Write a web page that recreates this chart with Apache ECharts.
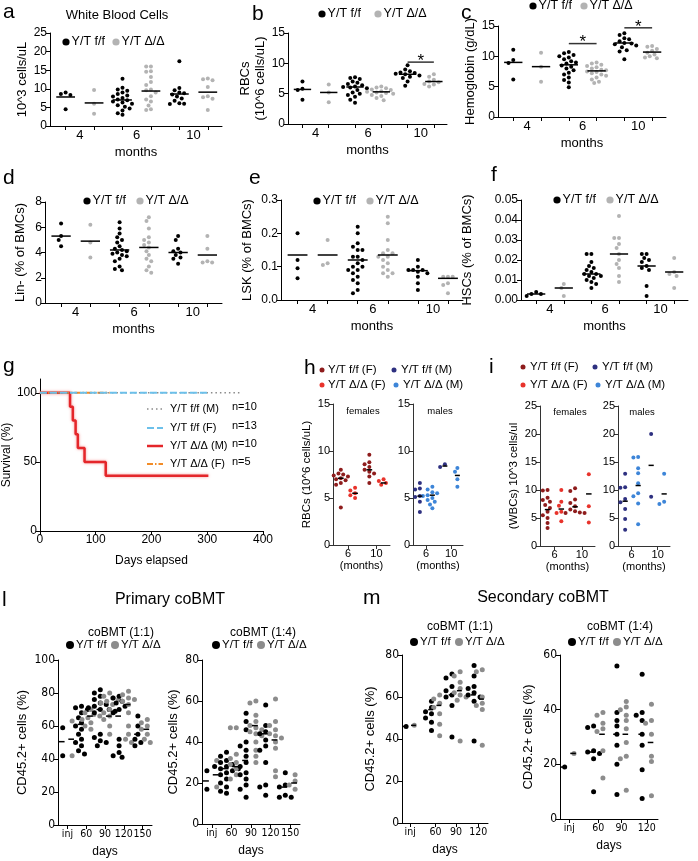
<!DOCTYPE html>
<html><head><meta charset="utf-8">
<script src="https://cdn.jsdelivr.net/npm/echarts@6/dist/echarts.min.js"></script>
<style>html,body{margin:0;padding:0;background:#fff}#c{width:698px;height:861px}</style>
</head><body><div id="c"></div>
<script>
const FONT = '"Liberation Sans", Arial, Helvetica, sans-serif';
const NARROW = '"Liberation Sans Narrow", "DejaVu Sans Condensed", "Liberation Sans", Arial, sans-serif';
const BLACK = '#000', GRAY = '#b3b3b3', GRAY2 = '#8c8c8c';
const DRED = '#8e1c1c', RED = '#e8332b', NAVY = '#2e3080', BLUE = '#3d85d8';

// ---------- tick labels ----------
const monthTicks = ['4', '6', '10'];
const sexMonthTicks = ['6', '10'];
const daysTicksPrimary = ['inj', '60', '90', '120', '150'];
const daysTicksSecondary = ['inj', '60', '90', '120'];

// ---------- a: white blood cells (10^3 cells/uL) by month 4,6,10 ----------
const wbcFF = [[9.0, 8.6, 8.3, 4.5],
  [12.7, 10.3, 9.8, 9.5, 9.0, 8.6, 8.2, 7.9, 7.5, 7.1, 6.9, 6.6, 6.3, 6.0, 5.6, 5.2, 4.7, 4.2, 3.4, 3.0],
  [17.4, 10.2, 9.6, 9.0, 8.8, 8.5, 7.9, 7.4, 6.8, 6.1, 6.0, 5.9]];
const wbcKO = [[9.7, 6.0, 3.3],
  [16.0, 16.0, 14.7, 14.6, 13.2, 11.8, 11.0, 9.8, 9.6, 9.0, 8.0, 7.1, 6.6, 5.5, 4.5, 4.3],
  [12.8, 12.6, 12.3, 10.5, 8.0, 7.7, 7.3, 4.3]];
const wbcFFmid = [7.8, 7.0, 8.6];
const wbcKOmid = [6.2, 9.4, 9.1];

// ---------- b: RBCs ----------
const rbcFF = [[7.0, 5.8, 5.6, 4.0],
  [7.7, 7.6, 7.4, 7.0, 6.8, 6.6, 6.4, 6.2, 6.1, 6.0, 5.9, 5.6, 5.2, 5.0, 4.8, 4.5, 4.0, 3.5],
  [9.7, 9.0, 8.7, 8.5, 8.4, 8.3, 8.2, 8.0, 7.8, 7.6, 7.0, 6.3]];
const rbcKO = [[6.5, 5.2, 3.6],
  [6.2, 6.0, 5.9, 5.7, 5.6, 5.4, 5.3, 5.2, 5.1, 5.0, 4.8, 4.6, 4.3, 3.9],
  [8.2, 7.8, 7.3, 7.0, 6.9, 6.6, 6.5, 6.2]];
const rbcFFmid = [5.7, 6.1, 8.2];
const rbcKOmid = [5.2, 5.3, 7.0];
const rbcSig = [[5, 6, 10.2]];

// ---------- c: hemoglobin ----------
const hgbFF = [[11.1, 9.4, 8.9, 6.2],
  [10.7, 10.5, 10.2, 10.0, 9.8, 9.5, 9.2, 9.0, 8.8, 8.5, 8.3, 8.0, 7.7, 7.3, 7.0, 6.5, 6.1, 5.7, 4.9],
  [13.8, 13.5, 13.0, 12.8, 12.5, 12.2, 12.1, 12.0, 11.8, 11.5, 11.0, 10.8, 9.5]];
const hgbKO = [[10.6, 8.3, 5.8],
  [9.0, 8.8, 8.6, 8.4, 8.2, 8.0, 7.8, 7.7, 7.5, 7.4, 7.2, 7.0, 6.8, 6.5, 6.2, 5.8, 5.6],
  [11.7, 11.6, 11.2, 10.9, 10.6, 10.3, 10.0, 9.8, 9.7]];
const hgbFFmid = [9.0, 8.6, 12.2];
const hgbKOmid = [8.3, 7.6, 10.7];
const hgbSig = [[3, 4, 12.1], [5, 6, 14.7]];

// ---------- d: Lin- ----------
const linFF = [[6.3, 5.3, 5.0, 4.5],
  [6.4, 5.9, 5.5, 5.2, 5.0, 4.8, 4.5, 4.3, 4.2, 4.1, 4.0, 3.9, 3.8, 3.7, 3.5, 3.3, 2.9, 2.7, 2.6],
  [5.3, 5.0, 4.3, 4.1, 4.0, 3.8, 3.6, 3.5, 3.1]];
const linKO = [[6.2, 4.8, 3.6],
  [6.8, 6.5, 5.9, 5.2, 5.0, 4.8, 4.6, 4.4, 4.1, 3.8, 3.5, 3.3, 2.9, 2.6, 2.4],
  [5.3, 4.3, 3.3, 3.2, 3.2]];
const linFFmid = [5.3, 4.2, 4.0];
const linKOmid = [4.9, 4.4, 3.8];

// ---------- e: LSK ----------
const lskFF = [[0.20, 0.12, 0.095, 0.065],
  [0.22, 0.20, 0.17, 0.16, 0.15, 0.15, 0.13, 0.13, 0.12, 0.11, 0.10, 0.10, 0.09, 0.09, 0.08, 0.07, 0.06, 0.05, 0.03, 0.02],
  [0.12, 0.10, 0.09, 0.09, 0.09, 0.085, 0.08, 0.07, 0.05, 0.03]];
const lskKO = [[0.18, 0.11, 0.105],
  [0.25, 0.23, 0.18, 0.15, 0.14, 0.14, 0.13, 0.13, 0.12, 0.11, 0.10, 0.09, 0.08, 0.08, 0.07],
  [0.07, 0.07, 0.07, 0.05, 0.045, 0.02]];
const lskFFmid = [0.135, 0.12, 0.088];
const lskKOmid = [0.135, 0.135, 0.065];

// ---------- f: HSCs ----------
const hscFF = [[0.004, 0.003, 0.003, 0.002],
  [0.023, 0.023, 0.019, 0.017, 0.016, 0.015, 0.014, 0.013, 0.013, 0.012, 0.012, 0.011, 0.010, 0.009, 0.008, 0.006],
  [0.023, 0.023, 0.021, 0.020, 0.019, 0.017, 0.016, 0.015, 0.007, 0.002]];
const hscKO = [[0.008, 0.006, 0.002],
  [0.042, 0.031, 0.031, 0.028, 0.026, 0.023, 0.020, 0.018, 0.016, 0.012, 0.009],
  [0.021, 0.014, 0.013, 0.012, 0.006]];
const hscFFmid = [0.003, 0.013, 0.017];
const hscKOmid = [0.006, 0.023, 0.014];

// ---------- g: survival ----------
const survFFM_days = [0, 360], survFFM_pct = [100, 100];
const survFFF_days = [0, 302], survFFF_pct = [100, 100];
const survKOM_days = [0, 54, 59, 64, 68, 80, 118, 302];
const survKOM_pct = [100, 90, 80, 70, 60, 50, 40, 40];
const survKOF_days = [0, 125], survKOF_pct = [100, 100];
const survLegend = ['Y/T f/f (M)', 'Y/T f/f (F)', 'Y/T Δ/Δ (M)', 'Y/T Δ/Δ (F)'];
const survN = ['n=10', 'n=13', 'n=10', 'n=5'];

// ---------- h: RBCs by sex (6, 10 months) ----------
const hFemFF = [[8.0, 7.6, 7.5, 7.4, 7.3, 7.2, 7.1, 7.0, 6.9, 6.8, 6.6, 6.4, 4.0], [9.6, 8.8, 8.6, 8.3, 8.0, 7.8, 7.6, 7.3, 6.6]];
const hFemKO = [[6.1, 5.8, 5.5, 5.3, 5.0], [7.0, 6.8, 6.6, 6.4]];
const hMalFF = [[6.6, 6.0, 5.9, 5.2, 5.1, 4.6, 3.5], [8.6, 8.3]];
const hMalKO = [[6.2, 5.9, 5.6, 5.5, 5.3, 5.2, 5.0, 4.8, 4.6, 4.3, 3.9], [8.2, 7.8, 7.0, 6.2]];
const hFemMid = [7.1, 5.5, 8.0, 6.6];
const hMalMid = [5.2, 5.3, 8.4, 7.4];

// ---------- i: WBCs by sex ----------
const iFemFF = [[10.0, 9.9, 8.6, 8.2, 7.9, 7.3, 6.8, 6.1, 5.5, 5.0, 4.1, 3.2], [10.3, 9.8, 8.3, 7.7, 7.1, 6.5, 6.2, 6.0, 5.9, 5.9]];
const iFemKO = [[10.0, 7.9, 7.2, 6.1, 5.9, 4.4], [12.8, 7.1, 4.2]];
const iMalFF = [[12.9, 10.5, 10.4, 8.4, 7.8, 6.6, 4.8, 2.9], [20.0, 8.8]];
const iMalKO = [[15.9, 15.8, 13.9, 13.0, 11.2, 9.4, 8.9, 7.6, 3.9], [12.9, 7.9, 7.5]];
const iFemMid = [6.5, 6.6, 7.0, 9.3];
const iMalMid = [8.0, 10.8, 14.4, 9.3];

// ---------- l: primary coBMT (CD45.2+ %) ----------
const pri11FF = [[59, 42], [72, 71, 70, 68, 65, 62, 60, 58, 55, 52, 50, 48, 45, 43],
  [82, 80, 78, 76, 74, 73, 72, 71, 70, 70, 69, 68, 55, 53, 51, 50, 48],
  [78, 77, 75, 74, 72, 70, 68, 52, 48, 44, 42, 41], [66, 60, 55, 52, 50, 48]];
const pri11KO = [[63, 42], [70, 68, 67, 66, 65, 64, 62, 60, 58],
  [80, 78, 77, 76, 75, 74, 73, 70, 68, 66, 64, 60, 55],
  [81, 79, 77, 76, 75, 73, 68, 60, 55, 52, 50], [64, 62, 60, 58, 55, 52, 50]];
const pri11FFmid = [50.5, 61, 70, 66, 55];
const pri11KOmid = [52, 66, 66, 73, 58];
const pri14FF = [[26, 17], [35, 33, 31, 30, 29, 28, 28, 27, 27, 26, 25, 24, 22, 20, 18, 16, 15],
  [54, 50, 46, 40, 38, 36, 33, 30, 28, 25, 24, 22, 19, 17, 13],
  [58, 48, 45, 44, 41, 38, 36, 30, 19, 18, 14], [25, 19, 18, 14, 13, 13]];
const pri14KO = [[31, 18], [47, 47, 34, 32, 30, 29, 27, 24, 22],
  [60, 59, 53, 50, 48, 47, 46, 45, 44, 43, 40, 36, 33, 30],
  [61, 50, 48, 46, 44, 43, 42, 40, 37, 26, 23], [24, 21, 19, 17]];
const pri14FFmid = [21, 27, 31, 44, 18];
const pri14KOmid = [24, 28, 48, 41, 20];

// ---------- m: secondary coBMT ----------
const sec11FF = [[46], [58, 55, 53, 52, 50, 48, 44], [71, 69, 65, 63, 61, 60, 56, 41], [75, 70, 65, 64, 62, 61, 60, 58, 39]];
const sec11KO = [[46.5], [61, 59, 57, 55, 52, 47, 41.5], [72, 70, 67, 64, 62, 61, 60, 58.5, 39], [73, 72, 60, 57, 56, 55, 54, 37]];
const sec11FFmid = [46, 54, 61, 61];
const sec11KOmid = [46.5, 56, 63, 59];
const sec14FF = [[19], [34, 33.5, 25, 24.5, 24, 22, 10], [56, 39, 36, 34, 31, 27, 20, 9], [53, 39, 38, 36, 31, 27, 18, 7.5]];
const sec14KO = [[24], [39, 38, 35, 33, 32, 25, 15], [43, 41, 40, 38, 36, 33, 28, 23, 22, 10.5], [42, 36, 35, 31, 23, 21, 8.5]];
const sec14FFmid = [19, 24.5, 31, 31];
const sec14KOmid = [24, 31, 31, 28];

// ================= building =================
const grids = [], xAxes = [], yAxes = [], series = [], graphic = [];

function swarm(vals, cx, yPerPx, xPerPx, dot) {
  const pts = vals.map(v => ({ v, py: v / yPerPx })).sort((a, b) => b.py - a.py);
  const placed = [], out = [];
  const d = dot * 1.08;
  pts.forEach(p => {
    let best = 0;
    for (let k = 0; k < 60; k++) {
      const off = (k === 0 ? 0 : (k % 2 ? -1 : 1) * Math.ceil(k / 2)) * d * 0.55;
      if (placed.every(q => Math.hypot(q.px - off, q.py - p.py) >= d)) { best = off; break; }
    }
    placed.push({ px: best, py: p.py });
    out.push([cx + best * xPerPx, p.v]);
  });
  return out;
}

function medRender(hw, color, lw) {
  return function (params, api) {
    const x = api.value(0), y = api.value(1);
    const a = api.coord([x - hw, y]), b = api.coord([x + hw, y]);
    return { type: 'line', shape: { x1: a[0], y1: a[1], x2: b[0], y2: b[1] }, style: { stroke: color, lineWidth: lw } };
  };
}
function sigRender(params, api) {
  const x1 = api.value(0), x2 = api.value(1), y = api.value(2);
  const a = api.coord([x1, y]), b = api.coord([x2, y]);
  return { type: 'group', children: [
    { type: 'line', shape: { x1: a[0], y1: a[1], x2: b[0], y2: b[1] }, style: { stroke: '#333', lineWidth: 1.5 } },
    { type: 'text', x: (a[0] + b[0]) / 2, y: a[1] - 1, style: { text: '*', fontSize: 17, fontFamily: FONT, fill: '#000', align: 'center', verticalAlign: 'middle' } }
  ] };
}

function dotPanel(p) {
  const gi = grids.length;
  const ac = p.axisColor || '#000';
  grids.push({ left: p.left, top: p.top, width: p.width, height: p.height });
  xAxes.push({
    gridIndex: gi, type: 'value', min: p.xmin, max: p.xmax,
    axisLine: { show: true, onZero: false, lineStyle: { color: ac, width: 1 } },
    axisTick: { show: !!p.tickAt, length: 4, customValues: p.tickAt || [], lineStyle: { color: ac } },
    axisLabel: {
      customValues: p.labelAt, hideOverlap: false, showMinLabel: true, showMaxLabel: true,
      formatter: v => { const i = p.labelAt.findIndex(t => Math.abs(t - v) < 1e-6); return i < 0 ? '' : p.labels[i]; },
      fontSize: p.xfs, fontFamily: p.xfont || FONT, color: '#000', margin: p.xmargin || 3
    },
    splitLine: { show: false },
    name: p.xName, nameLocation: 'middle', nameGap: p.xNameGap,
    nameTextStyle: { fontSize: p.xnfs, fontFamily: FONT, color: '#000' }
  });
  const y = p.y;
  yAxes.push({
    gridIndex: gi, type: 'value', min: y.min, max: y.max, interval: y.interval,
    axisLine: { show: true, onZero: false, lineStyle: { color: ac, width: 1 } },
    axisTick: { show: true, length: 4, lineStyle: { color: ac } },
    axisLabel: { color: '#000', fontSize: y.fs, fontFamily: p.yfont || FONT, margin: 3, formatter: y.fmt },
    splitLine: { show: false },
    name: y.name, nameLocation: 'middle', nameGap: y.nameGap, nameRotate: 90,
    nameTextStyle: { color: '#000', fontSize: y.nfs, fontFamily: FONT, lineHeight: y.nlh || y.nfs * 1.2 }
  });
  const xPerPx = (p.xmax - p.xmin) / p.width, yPerPx = (y.max - y.min) / p.height;
  p.cols.forEach(c => {
    series.push({ type: 'scatter', xAxisIndex: gi, yAxisIndex: gi, symbol: 'circle', symbolSize: c.size,
      itemStyle: { color: c.color, opacity: 1 }, data: swarm(c.values, c.x, yPerPx, xPerPx, c.size), silent: true, z: 3 });
  });
  series.push({ type: 'custom', xAxisIndex: gi, yAxisIndex: gi, silent: true, z: 4,
    data: p.cols.map(c => [c.x + (p.medShift || 0), c.med]), renderItem: medRender(p.medHalf, p.medColor || '#000', p.medWidth || 1.5) });
  if (p.sig) series.push({ type: 'custom', xAxisIndex: gi, yAxisIndex: gi, silent: true, z: 5, data: p.sig, renderItem: sigRender });
}

function topPanel(box, ff, ko, ffMid, koMid, y, sig) {
  const cols = [];
  for (let i = 0; i < 3; i++) {
    cols.push({ x: 2 * i + 1, values: ff[i], color: BLACK, size: 4, med: ffMid[i] });
    cols.push({ x: 2 * i + 2, values: ko[i], color: GRAY, size: 4, med: koMid[i] });
  }
  dotPanel(Object.assign({}, box, {
    xmin: 0.45, xmax: 6.5, tickAt: [1, 2, 3, 4, 5, 6], labelAt: [1.5, 3.5, 5.5], labels: monthTicks,
    xfs: 13, xName: 'months', xNameGap: 20, xnfs: 13, cols, y, medHalf: 0.33, sig
  }));
}

topPanel({ left: 50, top: 33, width: 172, height: 93 }, wbcFF, wbcKO, wbcFFmid, wbcKOmid,
  { min: 0, max: 25, interval: 5, fs: 12, name: '10^3 cells/uL', nameGap: 18, nfs: 13 });
topPanel({ left: 288, top: 33, width: 159, height: 91 }, rbcFF, rbcKO, rbcFFmid, rbcKOmid,
  { min: 0, max: 15, interval: 5, fs: 12, name: 'RBCs\n(10^6 cells/uL)', nameGap: 14, nfs: 13, nlh: 15 }, rbcSig);
topPanel({ left: 498, top: 26, width: 168, height: 91 }, hgbFF, hgbKO, hgbFFmid, hgbKOmid,
  { min: 0, max: 15, interval: 5, fs: 12, name: 'Hemoglobin (g/dL)', nameGap: 20, nfs: 13 }, hgbSig);
topPanel({ left: 45, top: 202, width: 177, height: 101 }, linFF, linKO, linFFmid, linKOmid,
  { min: 0, max: 8, interval: 2, fs: 12, name: 'Lin- (% of BMCs)', nameGap: 17, nfs: 13 });
topPanel({ left: 281, top: 200, width: 182, height: 100 }, lskFF, lskKO, lskFFmid, lskKOmid,
  { min: 0, max: 0.3, interval: 0.1, fs: 12, fmt: v => v.toFixed(1), name: 'LSK (% of BMCs)', nameGap: 26, nfs: 13 });
topPanel({ left: 521, top: 200, width: 167, height: 100 }, hscFF, hscKO, hscFFmid, hscKOmid,
  { min: 0, max: 0.05, interval: 0.01, fs: 12, fmt: v => v.toFixed(2), name: 'HSCs (% of BMCs)', nameGap: 46, nfs: 13 });

// ---- h / i sub panels ----
function sexPanel(box, ff, ko, mid, cFF, cKO, y) {
  const cols = [
    { x: 1, values: ff[0], color: cFF, size: 4, med: mid[0] },
    { x: 2, values: ko[0], color: cKO, size: 4, med: mid[1] },
    { x: 3, values: ff[1], color: cFF, size: 4, med: mid[2] },
    { x: 4, values: ko[1], color: cKO, size: 4, med: mid[3] }];
  dotPanel(Object.assign({}, box, {
    xmin: 0.45, xmax: 4.45, tickAt: [1.5, 3.5], labelAt: [1.5, 3.5], labels: sexMonthTicks,
    xfs: 11, xName: '(months)', xNameGap: 15, xnfs: 11, cols, y, medHalf: 0.2, medWidth: 1.5, axisColor: '#333'
  }));
}
sexPanel({ left: 333, top: 404, width: 57, height: 141 }, hFemFF, hFemKO, hFemMid, DRED, RED,
  { min: 0, max: 15, interval: 5, fs: 11, name: 'RBCs (10^6 cells/uL)', nameGap: 13, nfs: 11.5 });
sexPanel({ left: 413, top: 404, width: 50, height: 141 }, hMalFF, hMalKO, hMalMid, NAVY, BLUE,
  { min: 0, max: 15, interval: 5, fs: 11 });
sexPanel({ left: 540, top: 406, width: 55, height: 140 }, iFemFF, iFemKO, iFemMid, DRED, RED,
  { min: 0, max: 25, interval: 5, fs: 11, name: '(WBCs) 10^3 cells/ul', nameGap: 18, nfs: 11.5 });
sexPanel({ left: 618, top: 406, width: 52, height: 140 }, iMalFF, iMalKO, iMalMid, NAVY, BLUE,
  { min: 0, max: 25, interval: 5, fs: 11 });

// ---- l / m coBMT ----
function cbPanel(box, ff, ko, ffMid, koMid, groups, xmax, labels, y) {
  const cols = [];
  groups.forEach((g, i) => {
    cols.push({ x: g - 0.5, values: ff[i], color: BLACK, size: 5, med: ffMid[i] });
    cols.push({ x: g + 0.5, values: ko[i], color: GRAY2, size: 5, med: koMid[i] });
  });
  dotPanel(Object.assign({}, box, {
    xmin: 0, xmax, tickAt: groups, labelAt: groups, labels, xfs: 10.5, xfont: NARROW, xmargin: 4,
    xName: 'days', xNameGap: 21, xnfs: 12, cols, y, medHalf: 0.3, medShift: -0.1, medWidth: 1.5, yfont: NARROW
  }));
}
const cbY = (max, interval, name, gap) => ({ min: 0, max, interval, fs: 12, name, nameGap: gap, nfs: 13 });
cbPanel({ left: 58, top: 660, width: 94, height: 165 }, pri11FF, pri11KO, pri11FFmid, pri11KOmid,
  [1, 3, 5, 7, 9], 10, daysTicksPrimary, cbY(100, 20, 'CD45.2+ cells (%)', 26));
cbPanel({ left: 202, top: 660, width: 98, height: 164 }, pri14FF, pri14KO, pri14FFmid, pri14KOmid,
  [1, 3, 5, 7, 9], 10, daysTicksPrimary, cbY(80, 20, 'CD45.2+ cells (%)', 19));
cbPanel({ left: 402, top: 655, width: 86, height: 168 }, sec11FF, sec11KO, sec11FFmid, sec11KOmid,
  [1, 4.1, 6.6, 9.3], 10.5, daysTicksSecondary, cbY(80, 20, 'CD45.2+ cells (%)', 24));
cbPanel({ left: 560, top: 655, width: 98, height: 164 }, sec14FF, sec14KO, sec14FFmid, sec14KOmid,
  [1, 4.1, 6.6, 9.3], 10.5, daysTicksSecondary, cbY(60, 20, 'CD45.2+ cells (%)', 24));

// ---- g survival ----
(function () {
  const gi = grids.length;
  grids.push({ left: 39, top: 379, width: 224, height: 152 });
  xAxes.push({ gridIndex: gi, type: 'value', min: 0, max: 400, interval: 100,
    axisLine: { show: true, onZero: false, lineStyle: { color: '#000' } },
    axisTick: { length: 4, lineStyle: { color: '#000' } },
    axisLabel: { fontSize: 12, fontFamily: FONT, color: '#000', margin: 3 }, splitLine: { show: false },
    name: 'Days elapsed', nameLocation: 'middle', nameGap: 24, nameTextStyle: { fontSize: 12, fontFamily: FONT, color: '#000' } });
  yAxes.push({ gridIndex: gi, type: 'value', min: 0, max: 110,
    axisLine: { show: true, onZero: false, lineStyle: { color: '#000' } },
    axisTick: { length: 4, customValues: [0, 50, 100], lineStyle: { color: '#000' } },
    axisLabel: { customValues: [0, 50, 100], fontSize: 12, fontFamily: FONT, color: '#000', margin: 3 }, splitLine: { show: false },
    name: 'Survival (%)', nameLocation: 'middle', nameGap: 24, nameRotate: 90, nameTextStyle: { fontSize: 12, fontFamily: FONT, color: '#000' } });
  const pair = (d, p) => d.map((v, i) => [v, p[i]]);
  const ln = (data, color, width, type, z, extra) => Object.assign({ type: 'line', xAxisIndex: gi, yAxisIndex: gi, step: 'end', symbol: 'none', silent: true, z,
    data, lineStyle: { color, width, type } }, extra || {});
  series.push(ln(pair(survKOM_days, survKOM_pct), '#e4262a', 2.5, 'solid', 2,
    { lineStyle: { color: '#e4262a', width: 2.5, shadowColor: 'rgba(240,80,80,0.6)', shadowBlur: 3 } }));
  series.push(ln(pair(survKOF_days, survKOF_pct), '#f28c28', 2, [6, 2, 1.5, 2], 3));
  series.push(ln(pair(survFFM_days, survFFM_pct), '#8a8a8a', 1.6, [1.5, 3], 4));
  series.push(ln(pair(survFFF_days, survFFF_pct), '#6cc0ea', 2, [7, 3], 5));
})();

// ---------- graphics (text, legends) ----------
function txt(x, y, s, size, opt) {
  opt = opt || {};
  graphic.push({ type: 'text', x, y, silent: true, z: 10,
    style: { text: s, fontSize: size, fontFamily: opt.font || FONT, fill: opt.color || '#000', align: opt.align || 'left', verticalAlign: 'middle' } });
}
function dot(x, y, r, color) { graphic.push({ type: 'circle', silent: true, z: 10, shape: { cx: x, cy: y, r }, style: { fill: color } }); }
function legend2(x, y, fs, r, gap, gcol) {
  dot(x, y, r, BLACK); txt(x + r + 2, y, 'Y/T f/f', fs);
  dot(x + gap, y, r, gcol); txt(x + gap + r + 2, y, 'Y/T Δ/Δ', fs);
}
function sline(x1, x2, y, color, width, dash) {
  graphic.push({ type: 'line', silent: true, z: 10, shape: { x1, y1: y, x2, y2: y }, style: { stroke: color, lineWidth: width, lineDash: dash } });
}

// panel letters
[['a', 3, 12], ['b', 252, 14], ['c', 461, 13], ['d', 3, 178], ['e', 249, 178], ['f', 491, 175],
 ['g', 3, 366], ['h', 304, 368], ['i', 489, 367], ['l', 2, 600], ['m', 363, 598]]
  .forEach(([s, x, y]) => txt(x, y, s, 21));

txt(117, 15, 'White Blood Cells', 13, { align: 'center' });
legend2(66, 42, 12.5, 3.6, 50, GRAY);
legend2(322, 14, 12.5, 3.6, 56, GRAY);
legend2(533, 6, 12.5, 3.6, 51, GRAY);
legend2(87, 201, 12.5, 3.6, 53, GRAY);
legend2(317, 201, 12.5, 3.6, 53, GRAY);
legend2(557, 200, 12.5, 3.6, 53, GRAY);

// g legend
const gRows = [409, 428, 446, 464];
sline(147, 163, gRows[0], '#8a8a8a', 1.6, [1.5, 3]);
sline(147, 163, gRows[1], '#6cc0ea', 2, [7, 3]);
sline(147, 163, gRows[2], '#e4262a', 2.5, null);
sline(147, 163, gRows[3], '#f28c28', 2, [6, 2, 1.5, 2]);
survLegend.forEach((s, i) => { txt(170, gRows[i], s, 11); txt(232, gRows[i] - 2, survN[i], 11); });

// h legend
dot(322, 370, 2.5, DRED); txt(328, 370, 'Y/T f/f (F)', 11.5);
dot(394, 370, 2.5, NAVY); txt(401, 370, 'Y/T f/f (M)', 11.5);
dot(322, 385, 2.5, RED); txt(328, 385, 'Y/T Δ/Δ (F)', 11.5);
dot(396, 385, 2.5, BLUE); txt(403, 385, 'Y/T Δ/Δ (M)', 11.5);
txt(363, 411, 'females', 9.5, { align: 'center' });
txt(440, 411, 'males', 9.5, { align: 'center' });
// i legend
dot(523, 367, 2.5, DRED); txt(530, 367, 'Y/T f/f (F)', 11.5);
dot(595, 367, 2.5, NAVY); txt(602, 367, 'Y/T f/f (M)', 11.5);
dot(523, 385, 2.5, RED); txt(530, 385, 'Y/T Δ/Δ (F)', 11.5);
dot(598, 385, 2.5, BLUE); txt(605, 385, 'Y/T Δ/Δ (M)', 11.5);
txt(570, 412, 'females', 9.5, { align: 'center' });
txt(642, 412, 'males', 9.5, { align: 'center' });

// l / m titles
txt(170, 600, 'Primary coBMT', 16, { align: 'center' });
txt(543, 598, 'Secondary coBMT', 16, { align: 'center' });
txt(121, 633, 'coBMT (1:1)', 12, { align: 'center' });
txt(263, 633, 'coBMT (1:4)', 12, { align: 'center' });
txt(460, 627, 'coBMT (1:1)', 12, { align: 'center' });
txt(620, 627, 'coBMT (1:4)', 12, { align: 'center' });
legend2(70, 645, 11.5, 4, 45, GRAY2);
legend2(216, 645, 11.5, 4, 45, GRAY2);
legend2(414, 642, 11.5, 4, 45, GRAY2);
legend2(572, 642, 11.5, 4, 45, GRAY2);

const chart = echarts.init(document.getElementById('c'), null, { renderer: 'canvas' });
chart.setOption({
  animation: false, backgroundColor: '#fff', textStyle: { fontFamily: FONT },
  grid: grids, xAxis: xAxes, yAxis: yAxes, series, graphic
});
</script></body></html>
